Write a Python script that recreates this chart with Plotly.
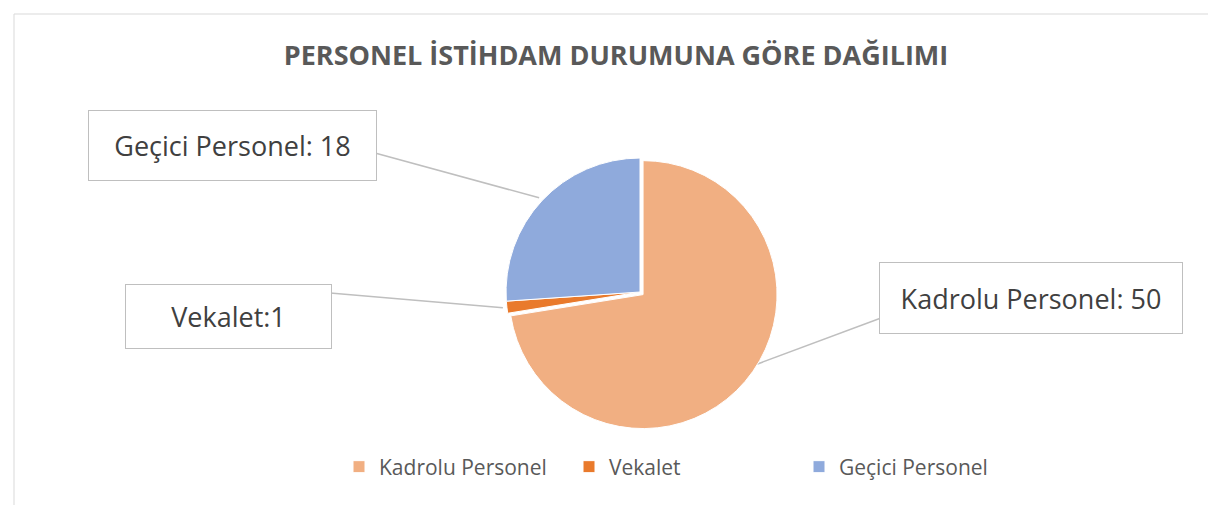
import math
import plotly.graph_objects as go

# Data
categories = ["Kadrolu Personel", "Vekalet", "Geçici Personel"]
values = [50, 1, 18]
label_texts = ["Kadrolu Personel: 50", "Vekalet:1", "Geçici Personel: 18"]
colors = ["#F1AF82", "#E97A2C", "#8FAADC"]
title_text = "PERSONEL İSTİHDAM DURUMUNA GÖRE DAĞILIMI"

W, H = 1216, 505
cx, cy, diam = 632, 284, 276  # pie centre/diameter in pixels


def px(x):
    return x / W


def py(y):
    return 1 - y / H


fig = go.Figure()
fig.add_trace(go.Pie(
    labels=categories,
    values=values,
    sort=False,
    direction="clockwise",
    rotation=0,
    pull=[0.03, 0, 0],
    marker=dict(colors=colors, line=dict(color="white", width=1)),
    textinfo="none",
    hoverinfo="label+value",
    domain=dict(x=[px(cx - diam / 2), px(cx + diam / 2)],
                y=[py(cy + diam / 2), py(cy - diam / 2)]),
))

# label boxes (centre x, centre y, width, height) and the box edge point where leader starts
boxes = [
    (1023, 290, 300, 68, (873, 310), 0.9),
    (220, 308.5, 203, 61, (240, 278), 1.0),
    (224, 137.5, 285, 67, (367, 145), 1.0),
]

total = sum(values)
cum = 0
annotations = []
shapes = []
r = diam / 2
for i, v in enumerate(values):
    mid = (cum + v / 2) / total
    cum += v
    bx, by, bw, bh, start, depth = boxes[i]
    ang = 2 * math.pi * mid
    tipx = cx + r * depth * math.sin(ang)
    tipy = cy - r * depth * math.cos(ang)
    annotations.append(dict(
        text=label_texts[i], x=px(bx), y=py(by), xref="paper", yref="paper",
        showarrow=False, width=bw, height=bh, bordercolor="#BFBFBF", borderwidth=1,
        bgcolor="white", font=dict(family="Open Sans", size=27, color="#404040"),
        xanchor="center", yanchor="middle",
    ))
    shapes.append(dict(type="line", xref="paper", yref="paper",
                       x0=px(start[0]), y0=py(start[1]), x1=px(tipx), y1=py(tipy),
                       line=dict(color="#BFBFBF", width=1.5), layer="below"))

shapes.append(dict(type="rect", xref="paper", yref="paper", x0=px(6), y0=py(503), x1=px(1210), y1=py(6),
                   line=dict(color="#D9D9D9", width=1), layer="below"))

fig.update_layout(
    width=W, height=H,
    margin=dict(l=0, r=0, t=0, b=0),
    paper_bgcolor="white",
    plot_bgcolor="white",
    title=dict(text="<b>" + title_text + "</b>", x=0.5, xanchor="center", y=py(48), yanchor="middle",
               font=dict(family="Open Sans", size=27, color="#595959")),
    showlegend=True,
    legend=dict(orientation="h", x=0.5 + 68 / W, xanchor="center", y=py(459), yanchor="middle",
                font=dict(family="Open Sans", size=21, color="#595959"),
                entrywidth=185, itemwidth=30),
    annotations=annotations,
    shapes=shapes,
)

fig.write_html("out.html")
